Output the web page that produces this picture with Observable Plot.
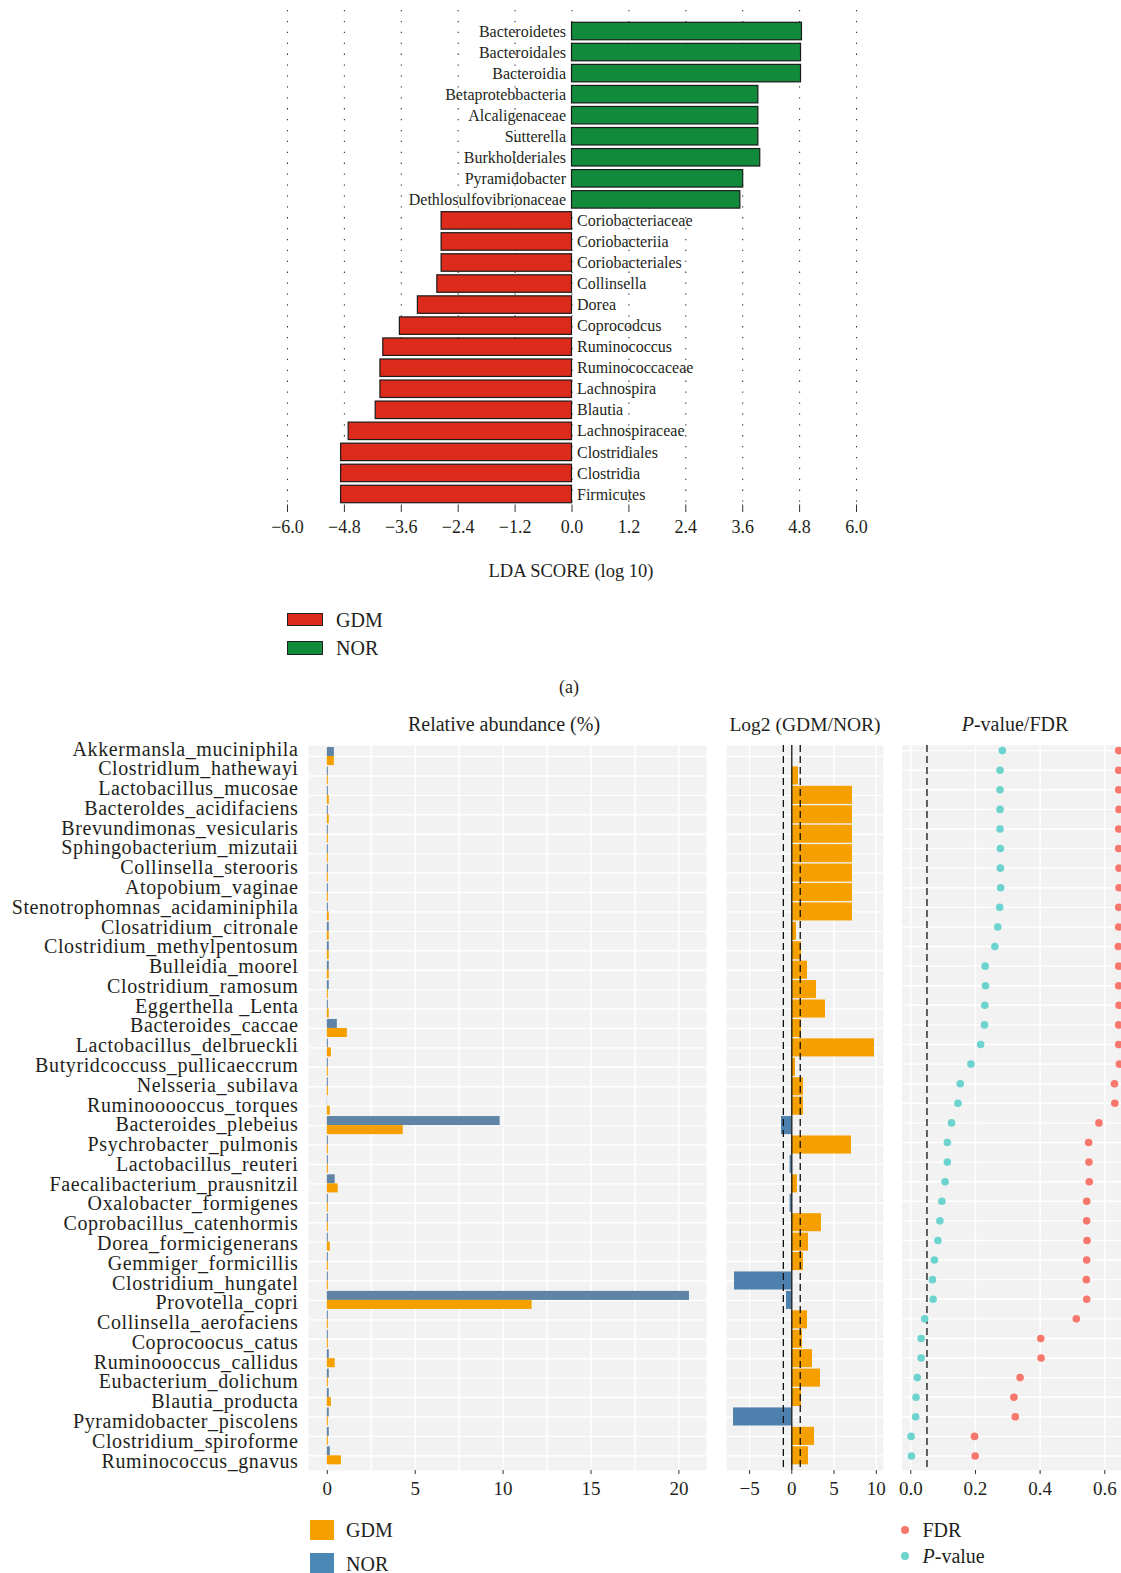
<!DOCTYPE html>
<html>
<head>
<meta charset="utf-8">
<script src="https://cdn.jsdelivr.net/npm/d3@7"></script>
<script src="https://cdn.jsdelivr.net/npm/@observablehq/plot@0.6"></script>
<style>
  html, body { margin: 0; padding: 0; background: #fff; overflow: hidden; }
  #root { position: relative; width: 1121px; height: 1573px; font-family: "Liberation Serif", serif; color: #231f20; }
  .abs { position: absolute; }
  .t { position: absolute; white-space: nowrap; line-height: 1; font-family: "Liberation Serif", serif; color: #231f20; }
</style>
</head>
<body>
<div id="root"></div>
<script>
// ---------------- DATA: panel (a) LEfSe LDA scores ----------------
const ldaTaxa = ["Bacteroidetes","Bacteroidales","Bacteroidia","Betaprotebbacteria","Alcaligenaceae","Sutterella","Burkholderiales","Pyramidobacter","Dethlosulfovibrionaceae","Coriobacteriaceae","Coriobacteriia","Coriobacteriales","Collinsella","Dorea","Coprocodcus","Ruminococcus","Ruminococcaceae","Lachnospira","Blautia","Lachnospiraceae","Clostridiales","Clostridia","Firmicutes"];
const ldaScores = [4.85,4.83,4.83,3.93,3.93,3.93,3.97,3.61,3.55,-2.75,-2.75,-2.75,-2.84,-3.25,-3.63,-3.98,-4.04,-4.04,-4.14,-4.71,-4.87,-4.87,-4.87];
const ldaGroups = ["NOR","NOR","NOR","NOR","NOR","NOR","NOR","NOR","NOR","GDM","GDM","GDM","GDM","GDM","GDM","GDM","GDM","GDM","GDM","GDM","GDM","GDM","GDM"];
const ldaTicks = [-6,-4.8,-3.6,-2.4,-1.2,0,1.2,2.4,3.6,4.8,6];

// ---------------- DATA: bottom panels ----------------
const species = ["Akkermansla_muciniphila","Clostridlum_hathewayi","Lactobacillus_mucosae","Bacteroldes_acidifaciens","Brevundimonas_vesicularis","Sphingobacterium_mizutaii","Collinsella_sterooris","Atopobium_vaginae","Stenotrophomnas_acidaminiphila","Closatridium_citronale","Clostridium_methylpentosum","Bulleidia_moorel","Clostridium_ramosum","Eggerthella _Lenta","Bacteroides_caccae","Lactobacillus_delbrueckli","Butyridcoccuss_pullicaeccrum","Nelsseria_subilava","Ruminooooccus_torques","Bacteroides_plebeius","Psychrobacter_pulmonis","Lactobacillus_reuteri","Faecalibacterium_prausnitzil","Oxalobacter_formigenes","Coprobacillus_catenhormis","Dorea_formicigenerans","Gemmiger_formicillis","Clostridium_hungatel","Provotella_copri","Collinsella_aerofaciens","Coprocoocus_catus","Ruminoooccus_callidus","Eubacterium_dolichum","Blautia_producta","Pyramidobacter_piscolens","Clostridium_spiroforme","Ruminococcus_gnavus"];
const abundNOR = [0.40,0.06,0.06,0.06,0.06,0.06,0.06,0.06,0.06,0.11,0.11,0.11,0.11,0.06,0.57,0.06,0.06,0.06,0.02,9.83,0.06,0.06,0.45,0.06,0.06,0.06,0.06,0.06,20.6,0.06,0.06,0.11,0.11,0.11,0.11,0.11,0.17];
const abundGDM = [0.40,0.06,0.11,0.11,0.06,0.06,0.06,0.06,0.11,0.11,0.11,0.11,0.06,0.11,1.14,0.23,0.06,0.06,0.17,4.32,0.06,0.06,0.62,0.06,0.06,0.17,0.06,0.06,11.65,0.06,0.06,0.45,0.06,0.23,0.06,0.06,0.80];
const log2FC = [0,0.79,7.18,7.18,7.18,7.18,7.18,7.18,7.18,0.56,1.15,1.86,2.92,3.99,1.15,9.79,0.44,1.38,1.38,-1.22,7.07,-0.2,0.67,-0.2,3.51,1.98,1.38,-6.78,-0.63,1.86,1.27,2.45,3.40,1.15,-6.9,2.69,1.98];
const pValues = [0.283,0.276,0.276,0.276,0.276,0.277,0.277,0.278,0.275,0.269,0.260,0.230,0.231,0.229,0.228,0.216,0.186,0.153,0.146,0.126,0.113,0.113,0.106,0.096,0.090,0.084,0.073,0.067,0.069,0.043,0.032,0.032,0.020,0.016,0.015,0.001,0.002];
const fdrValues = [0.643,0.643,0.643,0.644,0.643,0.643,0.644,0.644,0.643,0.643,0.642,0.643,0.643,0.644,0.643,0.643,0.645,0.630,0.631,0.582,0.550,0.551,0.552,0.544,0.544,0.545,0.544,0.543,0.544,0.512,0.402,0.403,0.338,0.319,0.323,0.197,0.199];

const relTicksMajor = [0,5,10,15,20];
const relGrid = [0,2.5,5,7.5,10,12.5,15,17.5,20];
const logTicks = [-5,0,5,10];
const pTicks = [0,0.2,0.4,0.6];

// ---------------- COLOURS ----------------
const C = {
  green: "#118a3b", red: "#dc2b1b",
  orange: "#f5a000", blueBar: "#5f84a6", blueLog: "#4e80ae", blueLeg: "#4a87b5",
  cyan: "#6dd3ce", salmon: "#f8776d", panel: "#f2f2f2", ink: "#231f20"
};
const FONT = '"Liberation Serif", serif';

const root = document.getElementById("root");
function place(node, left, top) {
  const d = document.createElement("div");
  d.className = "abs";
  d.style.left = left + "px";
  d.style.top = top + "px";
  d.appendChild(node);
  root.appendChild(d);
}
function txt(html, x, cy, fs, anchor = "middle") {
  const d = document.createElement("div");
  d.className = "t";
  d.style.fontSize = fs + "px";
  d.innerHTML = html;
  d.style.top = (cy - fs / 2) + "px";
  d.style.left = x + "px";
  if (anchor === "middle") d.style.transform = "translateX(-50%)";
  root.appendChild(d);
  return d;
}
function box(x, y, w, h, fill, stroke, radius) {
  const d = document.createElement("div");
  d.className = "abs";
  Object.assign(d.style, { left: x + "px", top: y + "px", width: w + "px", height: h + "px", background: fill, boxSizing: "border-box" });
  if (stroke) d.style.border = "1.2px solid " + stroke;
  if (radius) d.style.borderRadius = radius;
  root.appendChild(d);
}
const baseStyle = (fs) => ({ background: "transparent", overflow: "visible", maxWidth: "none", fontFamily: FONT, fontSize: fs + "px", color: C.ink });

// ---------------- PANEL (a) ----------------
const ldaRows = ldaTaxa.map((t, i) => ({ taxon: t, score: ldaScores[i], group: ldaGroups[i] }));
const ldaPlot = Plot.plot({
  width: 1121, height: 545,
  marginLeft: 287, marginRight: 265, marginTop: 10, marginBottom: 40.5,
  style: baseStyle(18),
  x: { domain: [-6, 6] },
  y: { domain: ldaTaxa, axis: null, paddingInner: 0.17, paddingOuter: 0.085, insetTop: 10.5, round: false },
  marks: [
    Plot.ruleX(ldaTicks, { stroke: "#333", strokeDasharray: "1.3,9.6", strokeWidth: 1.1 }),
    Plot.barX(ldaRows.filter(d => d.group === "NOR"), { y: "taxon", x1: 0, x2: "score", fill: C.green, stroke: "#1b1b1b", strokeWidth: 1.2 }),
    Plot.barX(ldaRows.filter(d => d.group === "GDM"), { y: "taxon", x1: 0, x2: "score", fill: C.red, stroke: "#1b1b1b", strokeWidth: 1.2 }),
    Plot.text(ldaRows.filter(d => d.score > 0), { y: "taxon", x: 0, text: "taxon", textAnchor: "end", dx: -6, fontSize: 16, fill: C.ink }),
    Plot.text(ldaRows.filter(d => d.score < 0), { y: "taxon", x: 0, text: "taxon", textAnchor: "start", dx: 5, fontSize: 16, fill: C.ink }),
    Plot.axisX({ ticks: ldaTicks, tickFormat: d3.format(".1f"), tickSize: 7.5, tickPadding: 8, fontSize: 18, label: null, stroke: "#333" })
  ]
});
place(ldaPlot, 0, 0);

txt("LDA SCORE (log 10)", 571, 571, 18.5);
box(287, 612.5, 36, 13.5, C.red, "#222");
box(287, 641, 36, 13.5, C.green, "#222");
txt("GDM", 336, 619.5, 20, "start");
txt("NOR", 336, 648, 20, "start");
txt("(a)", 569, 687, 18);

// ---------------- BOTTOM PANELS ----------------
const rows = species.map((s, i) => ({ species: s, nor: abundNOR[i], gdm: abundGDM[i], lfc: log2FC[i], p: pValues[i], fdr: fdrValues[i] }));
const PI = 0.07, PO = 0.197, AL = 0.26;
const panelH = 725;
const step = panelH / (species.length - PI + 2 * PO);
const bw = step * (1 - PI);
const yBand = { domain: species, axis: null, paddingInner: PI, paddingOuter: PO, align: AL, round: false };
const common = { height: 775, marginTop: 10, marginBottom: 40 };
const whiteGrid = { stroke: "#fff", strokeOpacity: 1, strokeWidth: 1.4 };
const axisOpts = { tickSize: 4, tickPadding: 7, fontSize: 19, label: null, stroke: "#333" };

// species labels (own point scale, aligned to the printed label rows)
const labelPlot = Plot.plot({
  width: 308, height: 800, margin: 0, marginRight: 10,
  style: Object.assign(baseStyle(20), { letterSpacing: "0.6px" }),
  x: { axis: null },
  y: { type: "point", domain: species, range: [48.6, 760.6], padding: 0, round: false, axis: null },
  marks: [
    Plot.text(species, { y: d => d, frameAnchor: "right", textAnchor: "end", fontSize: 20, fill: C.ink })
  ]
});
place(labelPlot, 0, 700);

// Relative abundance
const relPlot = Plot.plot({
  ...common, width: 720, marginLeft: 308, marginRight: 14,
  style: baseStyle(19),
  x: { domain: [-1.07, 21.57] },
  y: yBand,
  marks: [
    Plot.frame({ fill: C.panel, stroke: "none" }),
    Plot.gridX({ ticks: relGrid, ...whiteGrid }),
    Plot.gridY(whiteGrid),
    Plot.barX(rows, { y: "species", x1: 0, x2: "nor", fill: C.blueBar, insetBottom: bw / 2 }),
    Plot.barX(rows, { y: "species", x1: 0, x2: "gdm", fill: C.orange, insetTop: bw / 2 }),
    Plot.axisX({ ticks: relTicksMajor, ...axisOpts })
  ]
});
place(relPlot, 0, 735);

// Log2 fold change
const logPlot = Plot.plot({
  ...common, width: 186, marginLeft: 14, marginRight: 15.3,
  style: baseStyle(19),
  x: { domain: [-7.73, 10.82] },
  y: yBand,
  marks: [
    Plot.frame({ fill: C.panel, stroke: "none" }),
    Plot.gridX({ ticks: logTicks, ...whiteGrid }),
    Plot.gridY(whiteGrid),
    Plot.barX(rows.filter(d => d.lfc > 0), { y: "species", x1: 0, x2: "lfc", fill: C.orange }),
    Plot.barX(rows.filter(d => d.lfc < 0), { y: "species", x1: 0, x2: "lfc", fill: C.blueLog }),
    Plot.ruleX([0], { stroke: "#111", strokeWidth: 1.3 }),
    Plot.ruleX([-1, 1], { stroke: "#111", strokeWidth: 1.3, strokeDasharray: "7,4" }),
    Plot.axisX({ ticks: logTicks, ...axisOpts })
  ]
});
place(logPlot, 712, 735);

// P-value / FDR
const pPlot = Plot.plot({
  ...common, width: 231, marginLeft: 11.7, marginRight: 0,
  style: baseStyle(19),
  x: { domain: [-0.0266, 0.6517] },
  y: yBand,
  marks: [
    Plot.frame({ fill: C.panel, stroke: "none" }),
    Plot.gridX({ ticks: pTicks, ...whiteGrid }),
    Plot.gridY(whiteGrid),
    Plot.ruleX([0.05], { stroke: "#111", strokeWidth: 1.3, strokeDasharray: "7,4" }),
    Plot.dot(rows, { y: "species", x: "fdr", r: 3.8, fill: C.salmon, stroke: "none" }),
    Plot.dot(rows, { y: "species", x: "p", r: 3.8, fill: C.cyan, stroke: "none" }),
    Plot.axisX({ ticks: pTicks, tickFormat: d3.format(".1f"), ...axisOpts })
  ]
});
place(pPlot, 890, 735);

// panel titles
txt("Relative abundance (%)", 504, 724, 20);
txt("Log2 (GDM/NOR)", 805, 725, 19.5);
txt("<i>P</i>-value/FDR", 1015, 724, 20);

// bottom legends
box(310, 1520, 24, 20, C.orange);
box(310, 1553, 24, 20, C.blueLeg);
txt("GDM", 346, 1530, 20, "start");
txt("NOR", 346, 1564, 20, "start");
box(901, 1526, 8, 8, C.salmon, null, "50%");
box(901, 1552, 8, 8, C.cyan, null, "50%");
txt("FDR", 922.5, 1530, 20, "start");
txt("<i>P</i>-value", 922.5, 1556, 20, "start");
</script>
</body>
</html>
